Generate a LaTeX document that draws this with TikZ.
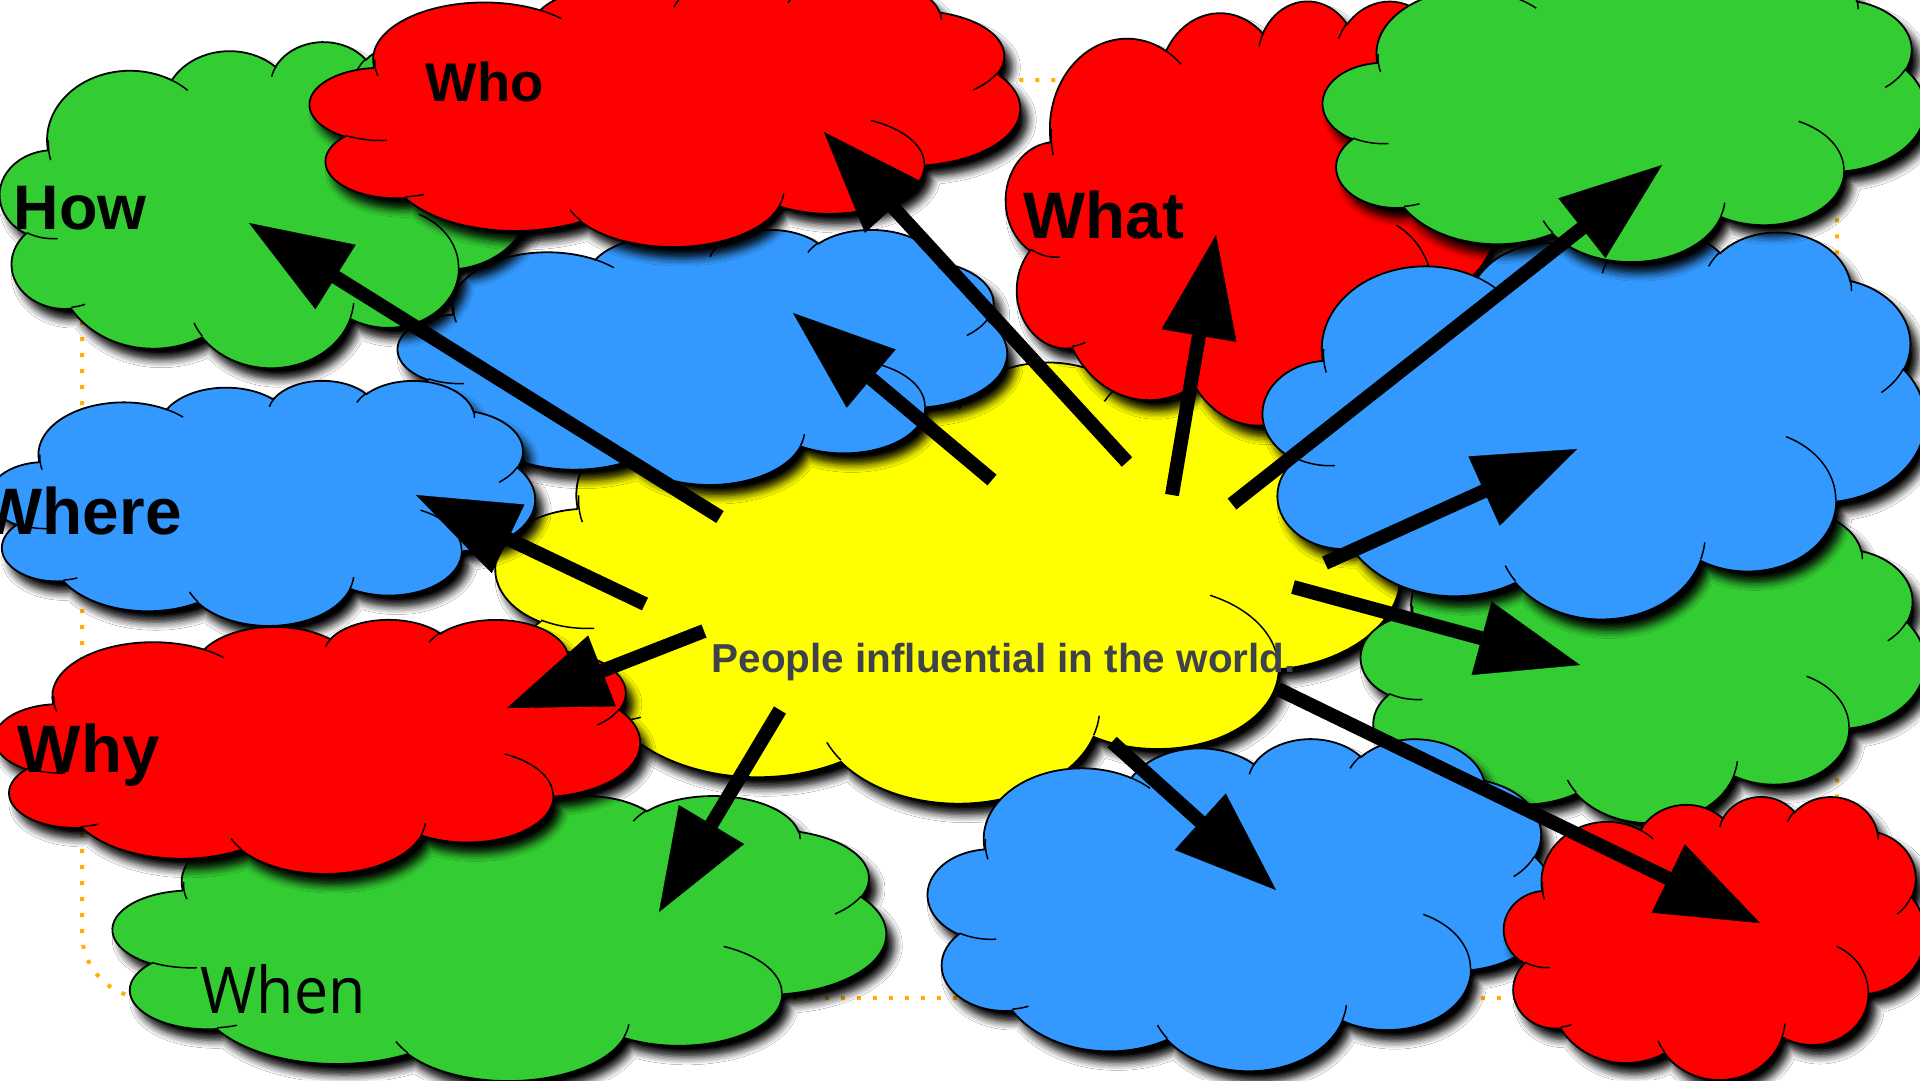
\documentclass[tikz,border=0pt]{standalone}
\usepackage{fontspec}
\setmainfont{Liberation Sans}
\newfontfamily\whenfont{Open Sans}
\usetikzlibrary{arrows.meta,shadows.blur}
\definecolor{cgreen}{RGB}{51,204,51}
\definecolor{cred}{RGB}{255,0,0}
\definecolor{cblue}{RGB}{51,153,255}
\definecolor{cyellow}{RGB}{255,255,0}
\definecolor{ctext}{RGB}{62,66,74}
\definecolor{cdots}{RGB}{255,176,0}
\tikzset{
  cloudbody/.style={draw=black, line width=0.18mm,
    blur shadow={shadow xshift=0.8mm, shadow yshift=-1.1mm, shadow blur radius=0.8mm, shadow blur steps=6, shadow opacity=100}},
  cloudmark/.style={draw=black, line width=0.15mm},
  bigarrow/.style={draw=black, line width=1.4mm, -{Triangle[length=10.2mm,width=7.6mm,line width=0.1pt,fill=black,color=black]}},
  qlabel/.style={inner sep=0pt, anchor=base west},
}
% PowerPoint-style cloud: #1,#2 top-left, #3 width, #4 height, #5 colour
\newcommand\pptcloud[5]{%
  \pgfmathsetmacro\cux{#3/43.2}%
  \pgfmathsetmacro\cuy{#4/43.2}%
  \pgfmathsetmacro\crx{#3/43.2*0.284528}%
  \pgfmathsetmacro\cry{#4/43.2*0.284528}%
  \path[cloudbody, fill=#5] ({#1+3.9*\cux},{#2+14.37*\cuy})
    arc[start angle=-172.254, end angle=-300.36, x radius={6.753*\crx*1pt}, y radius={9.19*\cry*1pt}]
    arc[start angle=152.02, end angle=45.43, x radius={5.333*\crx*1pt}, y radius={7.267*\cry*1pt}]
    arc[start angle=153.48, end angle=37.31, x radius={4.365*\crx*1pt}, y radius={5.945*\cry*1pt}]
    arc[start angle=139.70, end angle=10.21, x radius={4.857*\crx*1pt}, y radius={6.595*\cry*1pt}]
    arc[start angle=74.77, end angle=-23.21, x radius={5.333*\crx*1pt}, y radius={7.273*\cry*1pt}]
    arc[start angle=37.52, end angle=-81.86, x radius={6.775*\crx*1pt}, y radius={9.22*\cry*1pt}]
    arc[start angle=-0.46, end angle=-121.98, x radius={5.785*\crx*1pt}, y radius={7.867*\cry*1pt}]
    arc[start angle=-16.845, end angle=-146.25, x radius={6.752*\crx*1pt}, y radius={9.215*\cry*1pt}]
    arc[start angle=-58.98, end angle=-150.20, x radius={7.72*\crx*1pt}, y radius={10.543*\cry*1pt}]
    arc[start angle=-83.31, end angle=-223.13, x radius={4.36*\crx*1pt}, y radius={5.918*\cry*1pt}]
    arc[start angle=-120.36, end angle=-264.11, x radius={4.345*\crx*1pt}, y radius={5.945*\cry*1pt}]
    -- cycle;
  \path[cloudmark]
    ({#1+4.693*\cux},{#2+26.177*\cuy}) arc[start angle=-85.546, end angle=-120.35, x radius={4.345*\crx*1pt}, y radius={5.945*\cry*1pt}]
    ({#1+6.928*\cux},{#2+34.899*\cuy}) arc[start angle=-68.23, end angle=-83.31, x radius={4.36*\crx*1pt}, y radius={5.918*\cry*1pt}]
    ({#1+16.478*\cux},{#2+39.090*\cuy}) arc[start angle=-146.25, end angle=-158.47, x radius={6.752*\crx*1pt}, y radius={9.215*\cry*1pt}]
    ({#1+28.827*\cux},{#2+34.751*\cuy}) arc[start angle=-4.738, end angle=-16.845, x radius={6.752*\crx*1pt}, y radius={9.215*\cry*1pt}]
    ({#1+34.129*\cux},{#2+22.954*\cuy}) arc[start angle=64.03, end angle=-0.46, x radius={5.785*\crx*1pt}, y radius={7.867*\cry*1pt}]
    ({#1+41.798*\cux},{#2+15.354*\cuy}) arc[start angle=-23.21, end angle=-49.63, x radius={5.333*\crx*1pt}, y radius={7.273*\cry*1pt}]
    ({#1+38.324*\cux},{#2+5.426*\cuy}) arc[start angle=10.21, end angle=-0.821, x radius={4.857*\crx*1pt}, y radius={6.595*\cry*1pt}]
    ({#1+29.078*\cux},{#2+3.952*\cuy}) arc[start angle=156.27, end angle=139.70, x radius={4.857*\crx*1pt}, y radius={6.595*\cry*1pt}]
    ({#1+22.141*\cux},{#2+4.720*\cuy}) arc[start angle=167.72, end angle=153.48, x radius={4.365*\crx*1pt}, y radius={5.945*\cry*1pt}]
    ({#1+14.000*\cux},{#2+5.192*\cuy}) arc[start angle=59.64, end angle=45.71, x radius={6.753*\crx*1pt}, y radius={9.19*\cry*1pt}]
    ({#1+4.127*\cux},{#2+15.789*\cuy}) arc[start angle=-166.61, end angle=-183.11, x radius={6.753*\crx*1pt}, y radius={9.19*\cry*1pt}];
}
\begin{document}
\begin{tikzpicture}[x=0.1mm,y=-0.1mm]
\useasboundingbox (0,0) rectangle (1920,1080);
\fill[white] (0,0) rectangle (1920,1080);
% dotted frame
\draw[cdots, line width=0.4mm, dash pattern=on 0.4mm off 1.2mm, rounded corners=6.5mm] (82,80) rectangle (1837,998);
% clouds, back to front
\pptcloud{496}{361}{904}{441}{cyellow}
\pptcloud{398}{229}{609}{255}{cblue}
\pptcloud{0}{41}{530}{326}{cgreen}
\pptcloud{310}{-22}{710}{268}{cred}
\pptcloud{-10}{380}{545}{245}{cblue}
\pptcloud{113}{795}{773}{285}{cgreen}
\pptcloud{-5}{619}{645}{254}{cred}
\pptcloud{1006}{0}{494}{424}{cred}
\pptcloud{1361}{511}{564}{311}{cgreen}
\pptcloud{1263}{231}{662}{387}{cblue}
\pptcloud{1323}{-37}{602}{298}{cgreen}
\pptcloud{928}{738}{627}{332}{cblue}
\pptcloud{1504}{796}{421}{283}{cred}
% labels
\node[qlabel, font=\fontsize{17.9pt}{20pt}\selectfont\bfseries] (how) at (13,229) {How};
\node[qlabel, font=\fontsize{15.5pt}{18pt}\selectfont\bfseries] (who) at (425,101) {Who};
\node[qlabel, font=\fontsize{18.7pt}{21pt}\selectfont\bfseries] (what) at (1023,238) {What};
\node[qlabel, font=\fontsize{18.7pt}{21pt}\selectfont\bfseries] (where) at (-20,534) {Where};
\node[qlabel, font=\fontsize{19.1pt}{21pt}\selectfont\bfseries] (why) at (17,772) {Why};
\node[qlabel, font=\whenfont] (when) at (200,1013) {\resizebox{16.5mm}{4.9mm}{When}};
\node[qlabel, text=ctext, font=\fontsize{11.5pt}{14pt}\selectfont\bfseries] (center) at (711,672) {People influential in the world.};
% arrow ends
\coordinate (t1) at (720,517);  \coordinate (h1) at (249,223);
\coordinate (t2) at (1127,462); \coordinate (h2) at (824,132);
\coordinate (t3) at (992,480);  \coordinate (h3) at (793,313);
\coordinate (t4) at (1172,495); \coordinate (h4) at (1216,235);
\coordinate (t5) at (1232,504); \coordinate (h5) at (1662,165);
\coordinate (t6) at (1325,563); \coordinate (h6) at (1577,449);
\coordinate (t7) at (1293,587); \coordinate (h7) at (1580,665);
\coordinate (t8) at (1278,689); \coordinate (h8) at (1760,923);
\coordinate (t9) at (1112,742); \coordinate (h9) at (1276,890);
\coordinate (t10) at (780,710); \coordinate (h10) at (659,912);
\coordinate (t11) at (704,631); \coordinate (h11) at (507,708);
\coordinate (t12) at (645,604); \coordinate (h12) at (416,495);
\foreach \i in {1,...,12} {\draw[bigarrow] (t\i) -- (h\i);}
\end{tikzpicture}
\end{document}
